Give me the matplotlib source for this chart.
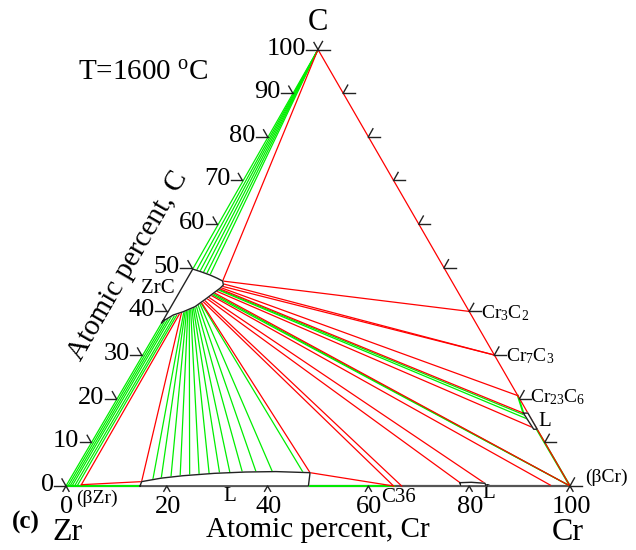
import numpy as np
import matplotlib
matplotlib.use("Agg")
import matplotlib.pyplot as plt

plt.rcParams["font.family"] = ["Liberation Serif", "DejaVu Serif"]
plt.rcParams["mathtext.fontset"] = "custom"
plt.rcParams["mathtext.rm"] = "Liberation Serif"
plt.rcParams["mathtext.it"] = "Liberation Serif:italic"

RED = "#ff0000"
GREEN = "#00ee00"
DARK = "#222222"

# ── Data (compositions in at.%: Cr, C) ────────────────────────────────────────
# ZrC single-phase region
zrc_cr = [0.3, 0.3, 2.2, 4.4, 6.2, 7.6, 8.2, 7.9, 7.15, 6.4, 5.05, 3.3, 1.7, 0.4, 0.3]
zrc_c  = [37.4, 49.7, 49.1, 48.34, 47.6, 46.96, 46.05, 45.29, 44.15, 43.0, 41.08, 39.93, 39.18, 37.8, 37.4]

# Zr-rich liquid (L) near the Zr-Cr edge
l1_cr = [14.7, 14.5, 18.0, 22.0, 28.0, 34.0, 40.0, 46.9, 48.1]
l1_c  = [0.0, 1.0, 1.8, 2.35, 2.9, 3.2, 3.3, 3.05, 0.0]

# Cr-rich liquid near 80 at.% Cr
l2_cr = [77.8, 80.0, 82.8, 83.4, 78.3]
l2_c  = [0.76, 0.85, 0.62, 0.0, 0.0]

# liquid on the Cr-C edge
l3_cr = [82.4, 83.3, 87.0, 86.3]
l3_c  = [16.7, 16.7, 13.0, 13.0]

# green tie lines: start (Cr, C) -> end (Cr, C)
g_start_cr = [0.0, 0.0, 0.0, 0.0, 0.0, 0.0,
              0.0, 0.4, 0.8, 1.2, 1.7, 2.2,
              3.4, 3.6, 3.8, 4.0, 4.2, 4.4, 4.6, 4.8, 5.0, 5.2, 5.4, 5.6, 5.8,
              7.0, 7.1, 7.55, 7.65]
g_start_c  = [100, 100, 100, 100, 100, 100,
              0.0, 0.0, 0.0, 0.0, 0.0, 0.0,
              40.0, 40.13, 40.26, 40.39, 40.52, 40.65, 40.78, 40.91, 41.05, 41.29, 41.57, 41.86, 41.95,
              43.9, 44.1, 45.0, 45.1]
g_end_cr   = [0.3, 1.2, 2.0, 2.8, 3.6, 4.4,
              0.3, 0.7, 1.1, 1.5, 2.0, 2.4,
              16.5, 18.0, 19.8, 21.5, 23.3, 25.1, 27.0, 29.0, 31.0, 33.4, 36.1, 39.3, 45.5,
              100.0, 100.0, 84.0, 83.0]
g_end_c    = [49.7, 49.4, 49.14, 48.87, 48.6, 48.34,
              37.5, 37.8, 38.2, 38.6, 38.9, 39.1,
              1.46, 1.8, 2.05, 2.3, 2.47, 2.63, 2.81, 2.95, 3.05, 3.18, 3.23, 3.29, 3.1,
              0.0, 0.0, 15.3, 16.2]

# red three-phase triangle edges: start (Cr, C) -> end (Cr, C)
r_start_cr = [0.0, 7.6, 2.9, 2.9, 14.5, 5.9, 46.9,
              6.0, 6.15, 6.4, 6.6, 6.9, 7.2, 7.4, 7.75, 7.85, 7.95, 8.1, 7.6]
r_start_c  = [100, 46.96, 0.3, 0.3, 1.0, 42.0, 3.05,
              42.3, 42.6, 43.0, 43.3, 43.7, 44.3, 44.7, 45.25, 45.5, 45.8, 46.3, 46.96]
r_end_cr   = [100.0, 0.0, 2.8, 14.5, 3.1, 46.9, 65.0,
              65.0, 66.6, 77.8, 82.8, 96.0, 100.0, 86.9, 82.4, 79.3, 70.0, 70.0, 60.0]
r_end_c    = [0.0, 100, 39.3, 1.0, 39.6, 3.05, 0.0,
              0.0, 0.0, 0.76, 0.62, 0.2, 0.0, 13.0, 16.7, 20.7, 30.0, 30.0, 40.0]

# green segments along the binary edges
edge_g_cr = [[0.0, 14.7], [48.1, 65.0], [79.3, 82.4], [86.9, 100.0]]
edge_g_c  = [[0.0, 0.0], [0.0, 0.0], [20.7, 16.7], [13.0, 0.0]]

left_ticks  = [0, 10, 20, 30, 40, 50, 60, 70, 80, 90, 100]
bottom_ticks = [0, 20, 40, 60, 80, 100]
right_ticks = [0, 10, 20, 30, 40, 50, 60, 70, 80, 90, 100]

phases = ["Cr$_3$C$_2$", "Cr$_7$C$_3$", "Cr$_{23}$C$_6$"]
phase_c = [40.0, 30.0, 20.7]


S3 = np.sqrt(3) / 2


def tern(cr, c):
    cr = np.asarray(cr, float)
    c = np.asarray(c, float)
    return cr + c / 2, c * S3


def pix(px, py):
    # pixel position in the 636x550 picture -> data coords
    return (px - 66) / 5.04, (486 - py) / 5.04


fig = plt.figure(figsize=(6.36, 5.5), dpi=100)
ax = fig.add_axes([0, 0, 1, 1])
ax.set_xlim(-13.095, 113.1)
ax.set_ylim(-12.70, 96.43)
ax.axis("off")

# base line
bx, by = tern([0, 100], [0, 0])
ax.plot(bx, by, color="#555555", lw=1.6, zorder=1)

for cr_pair, c_pair in zip(edge_g_cr, edge_g_c):
    x, y = tern(cr_pair, c_pair)
    ax.plot(x, y, color=GREEN, lw=1.4, zorder=2)

for a, b, c, d in zip(g_start_cr, g_start_c, g_end_cr, g_end_c):
    x, y = tern([a, c], [b, d])
    ax.plot(x, y, color=GREEN, lw=0.9, zorder=2)

for a, b, c, d in zip(r_start_cr, r_start_c, r_end_cr, r_end_c):
    x, y = tern([a, c], [b, d])
    ax.plot(x, y, color=RED, lw=0.9, zorder=3)

# phase regions
for pcr, pc in [(zrc_cr, zrc_c), (l1_cr, l1_c), (l2_cr, l2_c), (l3_cr, l3_c)]:
    x, y = tern(pcr + pcr[:1], pc + pc[:1])
    ax.fill(x, y, color="white", zorder=4)
    ax.plot(x, y, color=DARK, lw=1.0, zorder=5)

# ── ticks ──────────────────────────────────────────────────────────────────
tk = dict(color=DARK, lw=1.0, zorder=6)
for c in left_ticks:
    x, y = tern(0, c)
    ax.plot([x - 2.3, x], [y, y], **tk)
    ax.plot([x, x - 0.8], [y, y + 1.4], **tk)
    ax.text(x - 2.4, y + 0.2, str(c), ha="right", va="center", fontsize=19)
for cr in bottom_ticks:
    x, y = tern(cr, 0)
    ax.plot([x - 0.6, x, x + 0.6], [y - 1.05, y, y - 1.05], **tk)
    ax.text(x + 0.2, y - 1.9, str(cr), ha="center", va="top", fontsize=19)
for c in right_ticks:
    x, y = tern(100 - c, c)
    ax.plot([x, x + 2.3], [y, y], **tk)
    ax.plot([x, x + 0.9], [y, y + 1.6], **tk)

for name, c in zip(phases, phase_c):
    x, y = tern(100 - c, c)
    ax.text(x + 2.4, y - 0.3, name, ha="left", va="center", fontsize=14)

# ── labels ─────────────────────────────────────────────────────────────────
ax.text(*pix(318, 22), "C", ha="center", va="center", fontsize=22)
ax.text(*pix(68, 533), "Zr", ha="center", va="center", fontsize=23)
ax.text(*pix(568, 533), "Cr", ha="center", va="center", fontsize=23)
ax.text(*pix(26, 522), "(c)", ha="center", va="center", fontsize=18, fontweight="bold")
ax.text(*pix(143, 73), "T=1600 $^{\\mathrm{o}}$C", ha="center", va="center", fontsize=21)
ax.text(*pix(128, 266), "Atomic percent, C", ha="center", va="center", fontsize=21,
        rotation=60, rotation_mode="anchor")
ax.text(*pix(318, 530), "Atomic percent, Cr", ha="center", va="center", fontsize=21)
ax.text(*pix(158, 289), "ZrC", ha="center", va="center", fontsize=15)
ax.text(*pix(97, 498), "(βZr)", ha="center", va="center", fontsize=14)
ax.text(*pix(230, 497), "L", ha="center", va="center", fontsize=15)
ax.text(*pix(399, 498), "C36", ha="center", va="center", fontsize=15)
ax.text(*pix(489, 494), "L", ha="center", va="center", fontsize=15)
ax.text(*pix(585, 477), "(βCr)", ha="left", va="center", fontsize=14)
ax.text(*pix(545, 422), "L", ha="center", va="center", fontsize=15)

fig.savefig("out.png", dpi=100)
